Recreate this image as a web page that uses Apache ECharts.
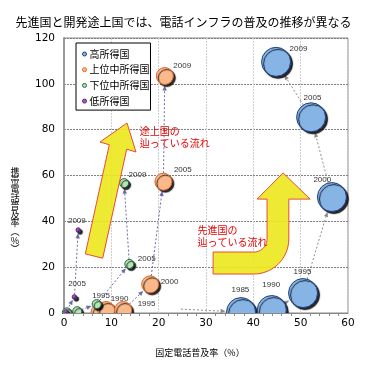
<!DOCTYPE html>
<html><head><meta charset="utf-8">
<script src="https://cdn.jsdelivr.net/npm/echarts@6/dist/echarts.min.js"></script>
<style>html,body{margin:0;padding:0;background:#fff}#c{width:367px;height:366px}</style>
</head><body><div id="c"></div>
<script>
// ---------- data ----------
const titleText = '先進国と開発途上国では、電話インフラの普及の推移が異なる';
const xName = '固定電話普及率（%）';
const yNameChars = ['携','帯','電','話','普','及','率','︵','%','︶'];
const seriesNames = ['高所得国', '上位中所得国', '下位中所得国', '低所得国'];
const xTicks = [0, 10, 20, 30, 40, 50, 60];
const yTicks = [0, 20, 40, 60, 80, 100, 120];

const highX = [37.4, 43.9, 50.5, 56.6, 52.2, 44.8];
const highY = [0.4, 1.3, 8.7, 50.6, 85.4, 109.6];
const highLabels = ['1985', '1990', '1995', '2000', '2005', '2009'];
const highStart = [24.7, 1.7];

const upperX = [7.5, 8.9, 12.5, 18.2, 21.0, 21.3];
const upperY = [0.2, 1.3, 1.3, 12.5, 57.3, 103.4];
const upperLabels = ['', '1990', '1995', '2000', '2005', '2009'];

const lowerX = [0.6, 2.8, 6.9, 13.8, 12.7];
const lowerY = [0.3, 0.8, 3.9, 21.4, 56.7];
const lowerLabels = ['', '', '1995', '2005', '2009'];

const lowX = [0.4, 2.2, 3.0];
const lowY = [0.5, 7.0, 36.2];
const lowLabels = ['', '2005', '2009'];

const devText = '途上国の\n辿っている流れ';
const advText = '先進国の\n辿っている流れ';

// ---------- styles ----------
const highLabelOffset = [[-24.5,-22],[-24.5,-25],[-24.5,-21],[-33.5,-17],[-22.5,-19],[-1.5,-13]];
const upperLabelOffset = [[0,0],[-4.5,-11],[5.5,-6],[1.5,-3],[1.5,-11.5],[-0.5,-10]];
const lowerLabelOffset = [[0,0],[0,0],[-9.5,-8.5],[3.5,-5.5],[-0.5,-8.5]];
const lowLabelOffset = [[0,0],[-9,-13],[-13,-9.5]];

const sizes = [29, 17, 9, 4.5];
const fills = ['#86b5e5', '#f9b98a', '#b8e4b8', '#a060c0'];
const borders = ['#1c3f8c', '#e8632a', '#1d6b3a', '#602080'];
const trailColors = ['#8c8c8c', '#6b6ba8', '#6b6ba8', '#6b6ba8'];

const CJK = '"Noto Sans CJK JP", sans-serif';
const NUM = '"DejaVu Sans", sans-serif';

// ---------- build ----------
const groups = [
  {xs: highX, ys: highY, labels: highLabels, offs: highLabelOffset, start: highStart},
  {xs: upperX, ys: upperY, labels: upperLabels, offs: upperLabelOffset},
  {xs: lowerX, ys: lowerY, labels: lowerLabels, offs: lowerLabelOffset},
  {xs: lowX, ys: lowY, labels: lowLabels, offs: lowLabelOffset}
];

const segs = [];
groups.forEach((g, gi) => {
  const r = sizes[gi] / 2;
  if (g.start) segs.push({x1: g.start[0], y1: g.start[1], x2: g.xs[0], y2: g.ys[0], r1: 0, r2: r, color: trailColors[gi]});
  for (let i = 0; i + 1 < g.xs.length; i++) {
    segs.push({x1: g.xs[i], y1: g.ys[i], x2: g.xs[i+1], y2: g.ys[i+1], r1: r, r2: r, color: trailColors[gi]});
  }
});

function renderConnector(params, api) {
  const seg = segs[params.dataIndex];
  const p1 = api.coord([api.value(0), api.value(1)]);
  const p2 = api.coord([api.value(2), api.value(3)]);
  let dx = p2[0] - p1[0], dy = p2[1] - p1[1];
  const len = Math.hypot(dx, dy);
  if (len < 1e-6) return null;
  dx /= len; dy /= len;
  const ah = 5, aw = 2.2;
  const s = [p1[0] + dx * seg.r1, p1[1] + dy * seg.r1];
  const e = [p2[0] - dx * (seg.r2 + 1), p2[1] - dy * (seg.r2 + 1)];
  const b = [e[0] - dx * ah, e[1] - dy * ah];
  const children = [];
  if (len - seg.r1 - seg.r2 - 1 > ah) {
    children.push({type: 'line', shape: {x1: s[0], y1: s[1], x2: b[0], y2: b[1]},
      style: {stroke: seg.color, lineWidth: 1, lineDash: [2, 2]}});
  }
  children.push({type: 'polygon', shape: {points: [e, [b[0] - dy * aw, b[1] + dx * aw], [b[0] + dy * aw, b[1] - dx * aw]]},
    style: {fill: seg.color}});
  return {type: 'group', children};
}

const series = [{
  type: 'custom',
  name: 'trail',
  coordinateSystem: 'cartesian2d',
  renderItem: renderConnector,
  data: segs.map(s => [s.x1, s.y1, s.x2, s.y2]),
  encode: {x: [0, 2], y: [1, 3]},
  silent: true,
  z: 1
}];

groups.forEach((g, gi) => {
  series.push({
    type: 'scatter',
    name: seriesNames[gi],
    symbol: 'circle',
    symbolSize: sizes[gi],
    z: 2,
    itemStyle: {
      color: fills[gi], borderColor: borders[gi], borderWidth: 1,
      shadowColor: 'rgba(0,0,0,0.85)', shadowBlur: 1, shadowOffsetX: 2, shadowOffsetY: 2, opacity: 1
    },
    label: {
      show: true, position: 'right', distance: 0,
      fontSize: 8, fontFamily: '"Liberation Sans", sans-serif', color: '#333',
      formatter: p => g.labels[p.dataIndex]
    },
    emphasis: {disabled: true},
    data: g.xs.map((x, i) => ({value: [x, g.ys[i]], label: {offset: g.offs[i]}}))
  });
});

const option = {
  animation: false,
  backgroundColor: '#fff',
  title: {
    text: titleText, left: 'center', top: 11,
    textStyle: {fontSize: 12, fontWeight: 'normal', color: '#000', fontFamily: CJK}
  },
  legend: {
    data: seriesNames,
    orient: 'vertical', left: 76, top: 43,
    padding: [5, 1, 3, 6],
    itemGap: 3.7, itemWidth: 4, itemHeight: 4, icon: 'circle',
    itemStyle: {shadowBlur: 0, shadowOffsetX: 0, shadowOffsetY: 0, shadowColor: 'rgba(0,0,0,0)', borderWidth: 1},
    backgroundColor: '#fff', borderColor: '#000', borderWidth: 1,
    textStyle: {fontSize: 10, lineHeight: 12, color: '#000', fontFamily: CJK, padding: [0, 0, 0, -2]},
    selectedMode: false
  },
  grid: {left: 64, right: 19, top: 38, bottom: 53, show: true, borderColor: '#888', borderWidth: 1, backgroundColor: '#fff'},
  xAxis: [{
    type: 'value', min: xTicks[0], max: xTicks[xTicks.length - 1], interval: xTicks[1] - xTicks[0],
    position: 'bottom',
    axisLine: {show: false}, axisTick: {show: false}, axisLabel: {show: false},
    splitLine: {show: true, lineStyle: {color: '#cfcfcf', type: [2, 1]}}
  }, {
    type: 'value', min: xTicks[0], max: xTicks[xTicks.length - 1], interval: xTicks[1] - xTicks[0],
    position: 'bottom', offset: 0, z: 10,
    name: xName, nameLocation: 'middle', nameGap: 35,
    nameTextStyle: {fontSize: 9, color: '#000', fontFamily: CJK, padding: [0, 12, 0, 0]},
    axisLine: {show: true, lineStyle: {color: '#888', width: 1}},
    axisTick: {show: false},
    minorTick: {show: true, splitNumber: 5, length: 3, lineStyle: {color: '#888'}},
    axisLabel: {show: true, margin: 5, fontSize: 10.5, color: '#000', fontFamily: NUM},
    splitLine: {show: false}
  }],
  yAxis: {
    type: 'value', min: yTicks[0], max: yTicks[yTicks.length - 1], interval: yTicks[1] - yTicks[0],
    axisLine: {show: true, lineStyle: {color: '#999', width: 2}},
    axisTick: {show: false},
    axisLabel: {margin: 9, fontSize: 10.5, color: '#000', fontFamily: NUM},
    splitLine: {show: true, lineStyle: {color: '#808080', type: [2, 1]}}
  },
  series
};

const chart = echarts.init(document.getElementById('c'), null, {renderer: 'canvas'});
chart.setOption(option);

// ---------- annotations (defined in data space) ----------
const leftArrow = [[13.31,82.9],[15.21,70.25],[13.25,71.5],[8.18,23.9],[4.50,25.8],[9.57,73.4],[7.61,74.6]];
const ra = {barLeft: 31.5, barTop: 26.6, barBottom: 17.0, shaftL: 42.9, shaftR: 47.5, headBase: 49.7,
            wingL: 40.8, wingR: 52.0, tip: [46.3, 61.1], corner: [40.1, 32.3]};
const devTextPos = [16.0, 81.8];
const advTextPos = [28.2, 38.9];

const px = p => chart.convertToPixel({xAxisIndex: 0, yAxisIndex: 0}, p);
const X = v => px([v, 0])[0];
const Y = v => px([0, v])[1];

const c = px(ra.corner);
const rightPts = [];
rightPts.push([X(ra.barLeft), Y(ra.barBottom)]);
rightPts.push([X(ra.barLeft), Y(ra.barTop)]);
const rx = X(ra.shaftL) - c[0], ry = Y(ra.barTop) - c[1];
for (let k = 0; k <= 12; k++) {
  const t = k / 12 * Math.PI / 2;
  rightPts.push([c[0] + rx * Math.sin(t), c[1] + ry * Math.cos(t)]);
}
rightPts.push([X(ra.shaftL), Y(ra.headBase)]);
rightPts.push([X(ra.wingL), Y(ra.headBase)]);
rightPts.push(px(ra.tip));
rightPts.push([X(ra.wingR), Y(ra.headBase)]);
rightPts.push([X(ra.shaftR), Y(ra.headBase)]);
const Rx = X(ra.shaftR) - c[0], Ry = Y(ra.barBottom) - c[1];
for (let k = 0; k <= 12; k++) {
  const t = k / 12 * Math.PI / 2;
  rightPts.push([c[0] + Rx * Math.cos(t), c[1] + Ry * Math.sin(t)]);
}

const arrowStyle = {fill: 'rgba(236,231,28,0.9)', stroke: '#e84a3a', lineWidth: 1};
const bottomY = Y(0);
const dp = px(devTextPos), ap = px(advTextPos);
const yNameX = X(0) - 49;
const yNameCenter = (Y(yTicks[0]) + Y(yTicks[yTicks.length - 1])) / 2 + 34.5;
const charPitch = 8.6;
const yNameTop = yNameCenter - charPitch * yNameChars.length / 2;

const graphics = [
  {type: 'rect', silent: true, z: 5, shape: {x: 58, y: bottomY + 1, width: 367 - 58, height: 366 - bottomY}, style: {fill: '#fff'}},
  {type: 'polygon', silent: true, z: 4, shape: {points: leftArrow.map(px)}, style: arrowStyle},
  {type: 'polygon', silent: true, z: 4, shape: {points: rightPts}, style: arrowStyle},
  {type: 'text', silent: true, z: 4, x: dp[0], y: dp[1], style: {text: devText, fill: '#e60000', fontSize: 10, lineHeight: 12, fontFamily: CJK}},
  {type: 'text', silent: true, z: 4, x: ap[0], y: ap[1], style: {text: advText, fill: '#e60000', fontSize: 10, lineHeight: 12, fontFamily: CJK}}
];
yNameChars.forEach((ch, i) => {
  graphics.push({type: 'text', silent: true, z: 4, x: yNameX, y: yNameTop + charPitch * (i + 0.5),
    style: {text: ch, fill: '#000', fontSize: 9, fontFamily: CJK, align: 'center', verticalAlign: 'middle'}});
});
chart.setOption({graphic: graphics});
</script>
</body></html>
